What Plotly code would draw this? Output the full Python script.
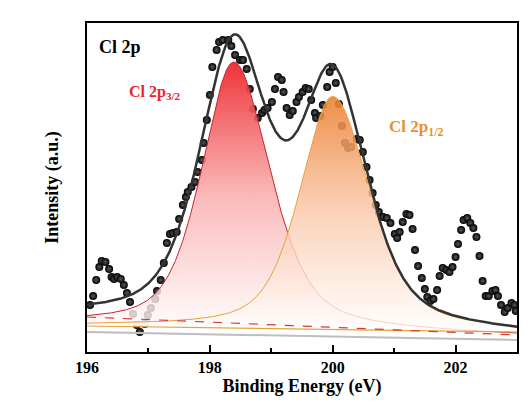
import numpy as np
import plotly.graph_objects as go

# ---- measured data (Binding energy in eV, intensity in a.u.) ----
be = [196.05, 196.10, 196.15, 196.20, 196.24, 196.30, 196.36, 196.40, 196.44, 196.49,
      196.55, 196.60, 196.65, 196.70, 196.75, 196.81, 196.86, 196.94, 196.99, 197.04,
      197.11, 197.14, 197.20, 197.25, 197.30, 197.35, 197.40, 197.46, 197.50, 197.56,
      197.61, 197.64, 197.70, 197.76, 197.80, 197.87, 197.90, 197.95, 198.00, 198.04,
      198.11, 198.15, 198.21, 198.30, 198.35, 198.41, 198.49, 198.54, 198.60, 198.65,
      198.70, 198.78, 198.85, 198.89, 198.94, 199.01, 199.06, 199.11, 199.17, 199.20,
      199.25, 199.30, 199.35, 199.41, 199.45, 199.51, 199.56, 199.61, 199.65, 199.71,
      199.73, 199.80, 199.84, 199.91, 199.95, 200.00, 200.05, 200.10, 200.15, 200.20,
      200.25, 200.30, 200.39, 200.44, 200.49, 200.55, 200.60, 200.65, 200.70, 200.75,
      200.82, 200.88, 200.94, 201.01, 201.05, 201.09, 201.14, 201.20, 201.25, 201.30,
      201.34, 201.39, 201.45, 201.50, 201.54, 201.59, 201.64, 201.70, 201.74, 201.79,
      201.85, 201.90, 201.95, 202.00, 202.04, 202.09, 202.13, 202.19, 202.24, 202.29,
      202.34, 202.39, 202.44, 202.49, 202.54, 202.60, 202.65, 202.69, 202.74, 202.80,
      202.85, 202.91, 202.96, 202.98]
intensity = [47, 56, 72, 85, 91, 90, 83, 75, 73, 75,
             73, 67, 59, 50, 38, 27, 20, 28, 37, 44,
             53, 61, 72, 89, 109, 118, 119, 120, 133, 147,
             155, 160, 165, 170, 180, 192, 209, 232, 257, 285,
             302, 310, 312, 312, 306, 297, 292, 292, 283, 263,
             243, 234, 239, 242, 244, 250, 263, 275, 272, 260,
             244, 237, 241, 250, 255, 260, 264, 263, 252, 239,
             234, 236, 247, 265, 280, 285, 269, 248, 226, 209,
             204, 205, 213, 212, 200, 185, 172, 159, 147, 140,
             135, 134, 129, 118, 114, 120, 130, 138, 137, 123,
             102, 86, 74, 63, 55, 51, 53, 62, 76, 84,
             82, 80, 85, 95, 108, 122, 132, 134, 129, 124,
             115, 96, 71, 56, 56, 61, 62, 56, 47, 40,
             44, 49, 47, 41]

# ---- fitted components (pseudo-Voigt parameters) ----
peak_names = ["Cl 2p3/2", "Cl 2p1/2"]
peak_center = [198.39, 200.00]
peak_height = [266, 233]
peak_hwhm_low = [0.62, 0.63]    # half width on low-BE side
peak_hwhm_high = [0.70, 0.72]   # half width on high-BE side
peak_eta = [0.5, 0.5]           # Lorentzian fraction

# envelope fit parameters
env_height = [272, 241]
env_hwhm_low = [0.66, 0.62]
env_hwhm_high = [0.66, 0.66]
env_eta = [0.5, 0.5]

# backgrounds (linear, value at 196 eV and at 203 eV)
bg_red = [28, 16]
bg_orange = [26, 20]
bg_gray = [20, 12]
bg_red_dash = [35, 17]

x_range = [196, 203]
x_ticks = [196, 198, 200, 202]


def pv(x, c, h, wl, wr, eta):
    w = np.where(x < c, wl, wr)
    u = (x - c) / w
    return h * (eta / (1 + u ** 2) + (1 - eta) * np.exp(-np.log(2) * u ** 2))


def lin(x, ends):
    return ends[0] + (ends[1] - ends[0]) * (x - x_range[0]) / (x_range[1] - x_range[0])


xf = np.linspace(x_range[0], x_range[1], 701)
r_bg = lin(xf, bg_red)
o_bg = lin(xf, bg_orange)
red_comp = r_bg + pv(xf, peak_center[0], peak_height[0], peak_hwhm_low[0], peak_hwhm_high[0], peak_eta[0])
org_comp = o_bg + pv(xf, peak_center[1], peak_height[1], peak_hwhm_low[1], peak_hwhm_high[1], peak_eta[1])
envelope = (lin(xf, bg_red_dash)
            + pv(xf, peak_center[0], env_height[0], env_hwhm_low[0], env_hwhm_high[0], env_eta[0])
            + pv(xf, peak_center[1], env_height[1], env_hwhm_low[1], env_hwhm_high[1], env_eta[1]))

fig = go.Figure()

# raw data points (3D-looking balls)
fig.add_trace(go.Scatter(
    x=be, y=intensity, mode="markers",
    marker=dict(size=8, color="#000000",
                gradient=dict(type="radial", color="#5a5a5a"),
                line=dict(width=0)),
    showlegend=False))

# red component with gradient fill
fig.add_trace(go.Scatter(x=xf, y=r_bg, mode="lines", line=dict(width=0), showlegend=False, hoverinfo="skip"))
fig.add_trace(go.Scatter(
    x=xf, y=red_comp, mode="lines", fill="tonexty",
    fillgradient=dict(type="vertical",
                      colorscale=[[0, "rgba(255,255,255,0.8)"], [0.5, "rgba(250,175,175,0.85)"],
                                  [1, "rgba(238,40,45,0.95)"]]),
    line=dict(color="#c4262e", width=1), showlegend=False))

# orange component with gradient fill
fig.add_trace(go.Scatter(x=xf, y=o_bg, mode="lines", line=dict(width=0), showlegend=False, hoverinfo="skip"))
fig.add_trace(go.Scatter(
    x=xf, y=org_comp, mode="lines", fill="tonexty",
    fillgradient=dict(type="vertical",
                      colorscale=[[0, "rgba(255,255,255,0.8)"], [0.5, "rgba(250,200,170,0.8)"],
                                  [1, "rgba(236,130,50,0.9)"]]),
    line=dict(color="#e8a23a", width=1), showlegend=False))

# backgrounds
fig.add_trace(go.Scatter(x=xf, y=lin(xf, bg_gray), mode="lines",
                         line=dict(color="#bdbdc4", width=2), showlegend=False))
fig.add_trace(go.Scatter(x=xf, y=lin(xf, bg_orange), mode="lines",
                         line=dict(color="#e8a23a", width=1.2), showlegend=False))
fig.add_trace(go.Scatter(x=xf, y=lin(xf, bg_red_dash), mode="lines",
                         line=dict(color="#d23a3a", width=1.2, dash="dash"), showlegend=False))

# envelope
fig.add_trace(go.Scatter(x=xf, y=envelope, mode="lines",
                         line=dict(color="#333333", width=2.5), showlegend=False))

font_family = "Liberation Serif"
fig.add_annotation(xref="paper", yref="paper", x=0.023, y=0.927, xanchor="left", yanchor="middle",
                   text="Cl 2p", showarrow=False,
                   font=dict(family=font_family, size=18, color="#000000", weight="bold"))
fig.add_annotation(xref="paper", yref="paper", x=0.093, y=0.79, xanchor="left", yanchor="middle",
                   text="Cl 2p<sub>3/2</sub>", showarrow=False,
                   font=dict(family=font_family, size=16, color="#e8262a", weight="bold"))
fig.add_annotation(xref="paper", yref="paper", x=0.698, y=0.682, xanchor="left", yanchor="middle",
                   text="Cl 2p<sub>1/2</sub>", showarrow=False,
                   font=dict(family=font_family, size=17, color="#e8922a", weight="bold"))

fig.update_layout(
    width=530, height=408,
    margin=dict(l=87, r=13, t=23, b=56),
    paper_bgcolor="white", plot_bgcolor="white",
    font=dict(family=font_family, color="#000000"),
    xaxis=dict(range=x_range, tickvals=x_ticks, ticktext=[str(t) for t in x_ticks],
               ticks="inside", ticklen=7, tickwidth=1.5, tickcolor="black",
               minor=dict(ticks="inside", ticklen=4, dtick=1, tickcolor="black", tickwidth=1.5),
               showline=True, linecolor="black", linewidth=2, mirror=True,
               showgrid=False, zeroline=False,
               tickfont=dict(family=font_family, size=16, color="black", weight="bold"),
               title=dict(text="Binding Energy (eV)",
                          font=dict(family=font_family, size=18, weight="bold"),
                          standoff=4)),
    yaxis=dict(range=[0, 329], showticklabels=False, ticks="",
               showline=True, linecolor="black", linewidth=2, mirror=True,
               showgrid=False, zeroline=False,
               title=dict(text="Intensity (a.u.)",
                          font=dict(family=font_family, size=18, weight="bold"),
                          standoff=22)),
)

fig.write_html("out.html")
